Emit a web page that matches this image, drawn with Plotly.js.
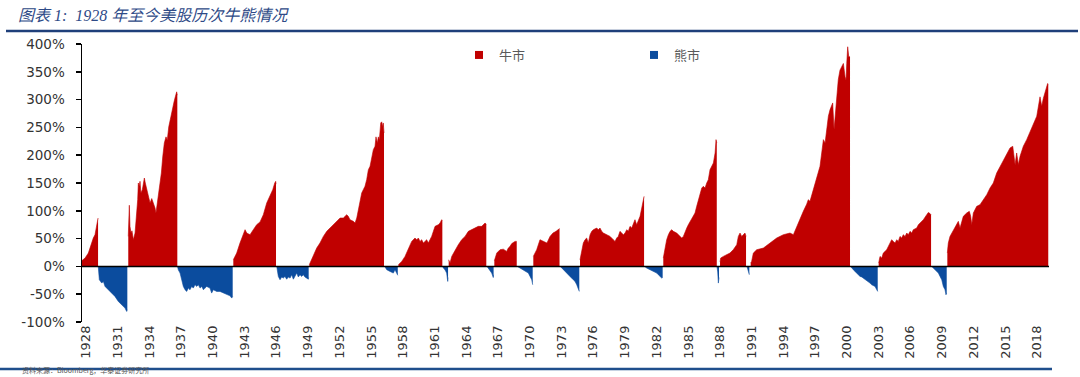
<!DOCTYPE html>
<html>
<head>
<meta charset="utf-8">
<script src="https://cdn.plot.ly/plotly-3.0.1.min.js"></script>
<style>html,body{margin:0;padding:0;background:#fff;}#chart{width:1080px;height:377px;}</style>
</head>
<body>
<div id="chart"></div>
<script>
// Bull-market cumulative gain (%) by position on the year axis; null separates episodes
const bullYears = [
1927.59,1927.91,1928.22,1928.38,1928.54,1928.69,1928.85,1928.95,1929.07,1929.14,null,
1932.00,1932.10,1932.16,1932.26,1932.35,1932.48,1932.64,1932.80,1932.89,1932.95,1933.04,1933.11,1933.20,1933.33,1933.42,1933.52,1933.61,1933.74,1933.90,1934.06,1934.22,1934.37,1934.53,1934.62,1934.75,1934.88,1935.00,1935.13,1935.26,1935.41,1935.57,1935.69,1935.83,1935.95,1936.07,1936.20,1936.33,1936.45,1936.58,1936.64,null,
1941.94,1942.26,1942.57,1942.89,1943.05,1943.21,1943.52,1943.83,1944.15,1944.47,1944.78,1945.10,1945.41,1945.67,1945.86,1945.95,1945.98,null,
1949.13,1949.20,1949.51,1949.83,1950.14,1950.46,1950.78,1951.09,1951.40,1951.72,1952.04,1952.35,1952.67,1952.82,1952.98,1953.30,1953.46,1953.62,1953.77,1953.93,1954.09,1954.24,1954.40,1954.56,1954.72,1954.88,1955.03,1955.19,1955.35,1955.44,1955.57,1955.66,1955.76,1955.89,1955.98,1956.08,1956.13,1956.20,null,
1957.56,1957.88,1958.19,1958.50,1958.82,1959.13,1959.30,1959.45,1959.61,1959.77,1959.92,1960.08,1960.24,1960.39,1960.55,1960.71,1960.87,1961.03,1961.34,1961.50,1961.66,1961.72,null,
1962.32,1962.45,1962.61,1962.92,1963.23,1963.55,1963.87,1964.18,1964.50,1964.81,1965.12,1965.45,1965.60,1965.76,1965.88,null,
1966.64,1966.71,1966.87,1967.18,1967.49,1967.81,1967.96,1968.12,1968.29,1968.60,1968.76,null,
1970.33,1970.65,1970.96,1971.25,1971.62,1971.91,1972.19,1972.48,1972.81,null,
1974.75,1974.91,1975.06,1975.22,1975.38,1975.53,1975.70,1975.86,1976.01,1976.33,1976.48,1976.64,1976.80,1976.96,1977.28,1977.59,1977.90,1978.06,1978.22,1978.37,1978.53,1978.69,1978.85,1979.01,1979.17,1979.32,1979.48,1979.64,1979.79,1979.95,1980.11,1980.27,1980.43,1980.59,1980.74,1980.81,null,
1982.63,1982.70,1982.79,1982.95,1983.11,1983.27,1983.43,1983.58,1983.90,1984.05,1984.21,1984.37,1984.53,1984.69,1984.85,1985.00,1985.16,1985.32,1985.47,1985.63,1985.79,1985.95,1986.11,1986.27,1986.42,1986.58,1986.74,1986.89,1987.05,1987.21,1987.37,1987.53,1987.62,1987.69,null,
1988.00,1988.06,1988.31,1988.63,1988.94,1989.25,1989.58,1989.73,1989.89,1990.05,1990.20,1990.36,1990.46,null,
1990.90,1990.99,1991.15,1991.47,1992.10,1992.73,1993.36,1993.99,1994.62,1994.94,1995.26,1995.57,1995.88,1996.20,1996.35,1996.51,1996.83,1997.15,1997.46,1997.62,1997.78,1997.94,1998.09,1998.25,1998.41,1998.57,1998.66,1998.79,1998.88,1999.04,1999.19,1999.35,1999.51,1999.67,1999.83,1999.92,1999.99,2000.08,2000.18,2000.30,null,
2003.01,2003.04,2003.14,2003.30,2003.45,2003.77,2004.08,2004.24,2004.40,2004.56,2004.72,2004.87,2005.03,2005.19,2005.34,2005.51,2005.67,2005.82,2005.98,2006.14,2006.29,2006.61,2006.77,2006.93,2007.24,2007.56,2007.71,2007.87,2007.97,null,
2009.51,2009.60,2009.76,2010.08,2010.40,2010.55,2010.71,2010.87,2011.02,2011.34,2011.59,2011.72,2011.82,2011.97,2012.29,2012.60,2012.92,2013.24,2013.55,2013.86,2014.18,2014.50,2014.81,2015.13,2015.44,2015.70,2015.92,2016.07,2016.23,2016.39,2016.70,2017.02,2017.33,2017.65,2017.97,2018.28,2018.44,2018.59,2018.75,2018.91,2019.00,2019.06
];
const bullPct = [
10,15,24,33,45,51,57,66,81,87,null,
54,110,72,60,64,48,60,96,120,150,144,153,132,138,150,159,150,138,126,114,122,114,105,96,114,126,144,168,197,222,233,227,251,263,269,287,296,305,314,308,null,
12,24,42,60,66,60,57,66,75,80,93,114,126,138,150,153,148,null,
3,6,21,33,42,54,63,69,75,81,87,87,93,90,84,81,78,87,102,120,132,138,144,156,174,180,197,210,216,233,222,233,228,258,260,251,258,240,null,
3,9,18,33,45,51,48,51,45,48,42,45,48,42,48,54,63,72,75,78,84,82,null,
12,6,18,30,39,48,54,63,66,69,72,72,75,78,76,null,
10,15,24,30,31,27,33,36,41,45,45,null,
18,30,48,45,42,54,60,63,68,null,
12,27,42,48,51,42,57,63,66,69,66,69,63,60,57,54,48,45,51,54,63,60,57,60,66,63,72,69,78,84,75,84,90,105,120,126,null,
15,24,36,48,57,63,66,63,60,57,54,51,54,63,69,75,81,87,90,96,108,120,132,141,144,141,150,156,174,180,186,204,228,222,null,
8,15,18,21,24,30,39,54,60,54,57,60,54,null,
6,9,24,30,33,42,51,57,60,57,72,87,99,112,120,117,138,156,180,204,228,222,246,270,282,288,294,246,270,306,336,353,359,365,341,335,365,395,377,377,null,
6,12,18,15,24,30,42,48,45,42,48,45,54,51,57,54,60,57,63,60,66,69,75,78,84,93,97,95,93,null,
24,42,54,66,78,81,69,78,90,96,99,90,75,96,108,111,120,129,141,150,168,180,192,204,213,216,183,204,183,198,216,228,242,258,270,305,288,302,311,323,329,326
];

// Bear-market cumulative loss (%) by position on the year axis; null separates episodes
const bearYears = [
1929.16,1929.26,1929.49,1929.64,1929.80,1930.11,1930.43,1930.74,1931.06,1931.38,1931.69,1931.85,1931.91,null,
1936.66,1936.73,1936.90,1937.05,1937.21,1937.37,1937.53,1937.68,1937.84,1938.00,1938.15,1938.32,1938.48,1938.63,1938.79,1938.95,1939.11,1939.26,1939.42,1939.73,1939.89,1940.05,1940.37,1940.68,1940.99,1941.32,1941.63,1941.79,1941.88,null,
1946.05,1946.20,1946.36,1946.52,1946.67,1946.83,1946.99,1947.14,1947.31,1947.47,1947.62,1947.78,1947.94,1948.09,1948.25,1948.41,1948.56,1948.72,1948.89,1949.04,1949.07,null,
1956.27,1956.46,1956.77,1957.08,1957.24,1957.40,1957.50,null,
1961.76,1961.81,1961.97,1962.13,1962.23,1962.26,null,
1965.95,1966.07,1966.23,1966.39,1966.54,1966.57,null,
1968.82,1969.07,1969.38,1969.70,1969.86,1970.02,1970.18,1970.27,null,
1972.88,1973.02,1973.17,1973.49,1973.80,1974.11,1974.28,1974.44,1974.59,1974.68,null,
1980.87,1981.06,1981.38,1981.69,1982.01,1982.16,1982.32,1982.48,1982.57,null,
1987.71,1987.78,1987.84,1987.90,null,
1990.55,1990.62,1990.68,1990.77,null,
2000.36,2000.46,2000.61,2000.77,2000.93,2001.09,2001.25,2001.41,2001.56,2001.72,2001.88,2002.03,2002.19,2002.35,2002.51,2002.67,2002.83,2002.92,null,
2008.03,2008.18,2008.34,2008.50,2008.66,2008.82,2008.98,2009.13,2009.29,2009.38,2009.45
];
const bearPct = [
0,-24,-30,-27,-36,-42,-48,-54,-63,-69,-75,-81,-78,null,
0,-6,-12,-24,-36,-42,-45,-39,-42,-36,-39,-33,-36,-33,-39,-36,-42,-39,-36,-39,-48,-42,-45,-45,-48,-51,-53,-57,-54,null,
0,-18,-24,-19,-21,-18,-23,-19,-21,-15,-23,-18,-12,-19,-15,-18,-15,-19,-21,-23,-20,null,
0,-6,-9,-12,-6,-12,-16,null,
0,-3,-6,-12,-27,-20,null,
0,-3,-6,-12,-20,-15,null,
0,-3,-6,-9,-12,-18,-24,-33,null,
0,-3,-6,-12,-18,-24,-27,-33,-42,-45,null,
0,-3,-6,-9,-12,-15,-18,-21,-20,null,
0,-10,-30,-20,null,
0,-6,-12,-15,null,
0,-3,-6,-9,-12,-15,-18,-19,-21,-24,-25,-28,-30,-33,-34,-36,-42,-45,null,
0,-3,-6,-9,-12,-18,-24,-36,-42,-51,-48
];

const tickYears = [1928,1931,1934,1937,1940,1943,1946,1949,1952,1955,1958,1961,1964,1967,1970,1973,1976,1979,1982,1985,1988,1991,1994,1997,2000,2003,2006,2009,2012,2015,2018];
const yTicks = [-100,-50,0,50,100,150,200,250,300,350,400];
const seriesNames = ['牛市','熊市'];
const seriesColors = ['#C00000','#0B4C9E'];

// split a null-separated series into episodes, one filled trace per episode
function episodes(xs, ys) {
  const out = []; let cx = [], cy = [];
  for (let i = 0; i < xs.length; i++) {
    if (xs[i] === null || ys[i] === null) { if (cx.length) out.push([cx, cy]); cx = []; cy = []; }
    else { cx.push(xs[i]); cy.push(ys[i]); }
  }
  if (cx.length) out.push([cx, cy]);
  return out;
}

const traces = [];
[[bullYears, bullPct, 0], [bearYears, bearPct, 1]].forEach(([xs, ys, k]) => {
  episodes(xs, ys).forEach(([ex, ey]) => {
    traces.push({x: ex, y: ey, type: 'scatter', mode: 'lines', fill: 'tozeroy',
      line: {color: seriesColors[k], width: 0.6}, fillcolor: seriesColors[k],
      showlegend: false, hoverinfo: 'skip'});
  });
});
seriesNames.forEach((n, k) => traces.push({x: [null], y: [null], type: 'scatter', mode: 'markers', name: n,
  marker: {symbol: 'square', size: 8, color: seriesColors[k]}}));

const W = 1080, H = 377, L = 82, R = 31, T = 44, B = 55;
const pw = W - L - R, ph = H - T - B;
const px = v => (v - L) / pw;
const py = v => (H - B - v) / ph;

const layout = {
  width: W, height: H,
  margin: {l: L, r: R, t: T, b: B, pad: 0},
  paper_bgcolor: '#ffffff', plot_bgcolor: '#ffffff',
  font: {family: 'DejaVu Sans, sans-serif', size: 13, color: '#333333'},
  title: {
    text: '图表 1:  1928 年至今美股历次牛熊情况',
    xref: 'container', yref: 'container', x: 18 / W, xanchor: 'left', y: 1 - 15 / H, yanchor: 'middle',
    font: {family: 'Liberation Serif, Noto Sans CJK SC, serif', size: 16, style: 'italic', color: '#2E4A87'}
  },
  xaxis: {
    range: [1927.62, 2019.13], showgrid: false, zeroline: false, showline: false,
    tickmode: 'array', tickvals: tickYears, ticktext: tickYears.map(String),
    tickangle: -90, ticks: '', tickfont: {family: 'DejaVu Sans, sans-serif', size: 13, color: '#333333'},
    automargin: false, fixedrange: true
  },
  yaxis: {
    range: [-100, 400], showgrid: false, zeroline: false,
    showline: true, linecolor: '#000000', linewidth: 1.5,
    tickmode: 'array', tickvals: yTicks, ticktext: yTicks.map(v => v + '%'),
    ticks: 'outside', ticklen: 5, tickwidth: 1.5, tickcolor: '#000000',
    ticklabelstandoff: 8,
    tickfont: {family: 'DejaVu Sans, sans-serif', size: 13.5, color: '#333333'},
    automargin: false, fixedrange: true
  },
  legend: {
    orientation: 'h', xref: 'paper', yref: 'paper', traceorder: 'normal',
    x: px(459), xanchor: 'left', y: py(40), yanchor: 'top',
    itemwidth: 30, entrywidth: 130, entrywidthmode: 'pixels',
    bgcolor: 'rgba(0,0,0,0)',
    font: {family: 'Noto Sans CJK SC, sans-serif', size: 13, color: '#595959'}
  },
  shapes: [
    {type: 'line', xref: 'paper', yref: 'y', x0: 0, x1: 1, y0: 0, y1: 0,
     line: {color: '#000000', width: 1.5}, layer: 'above'},
    {type: 'line', xref: 'paper', yref: 'paper', x0: px(6), x1: px(1078), y0: py(31), y1: py(31),
     line: {color: '#1F3F7A', width: 2.5}},
    {type: 'line', xref: 'paper', yref: 'paper', x0: px(0), x1: px(1052), y0: py(369), y1: py(369),
     line: {color: '#1F4E8C', width: 2.5}}
  ],
  annotations: [
    {text: '资料来源：Bloomberg，华泰证券研究所', xref: 'paper', yref: 'paper',
     x: px(20), y: py(377), xanchor: 'left', yanchor: 'bottom', showarrow: false,
     font: {family: 'Noto Sans CJK SC, sans-serif', size: 7, color: '#555555'}}
  ]
};

Plotly.newPlot('chart', traces, layout, {staticPlot: true, displayModeBar: false});
</script>
</body>
</html>
